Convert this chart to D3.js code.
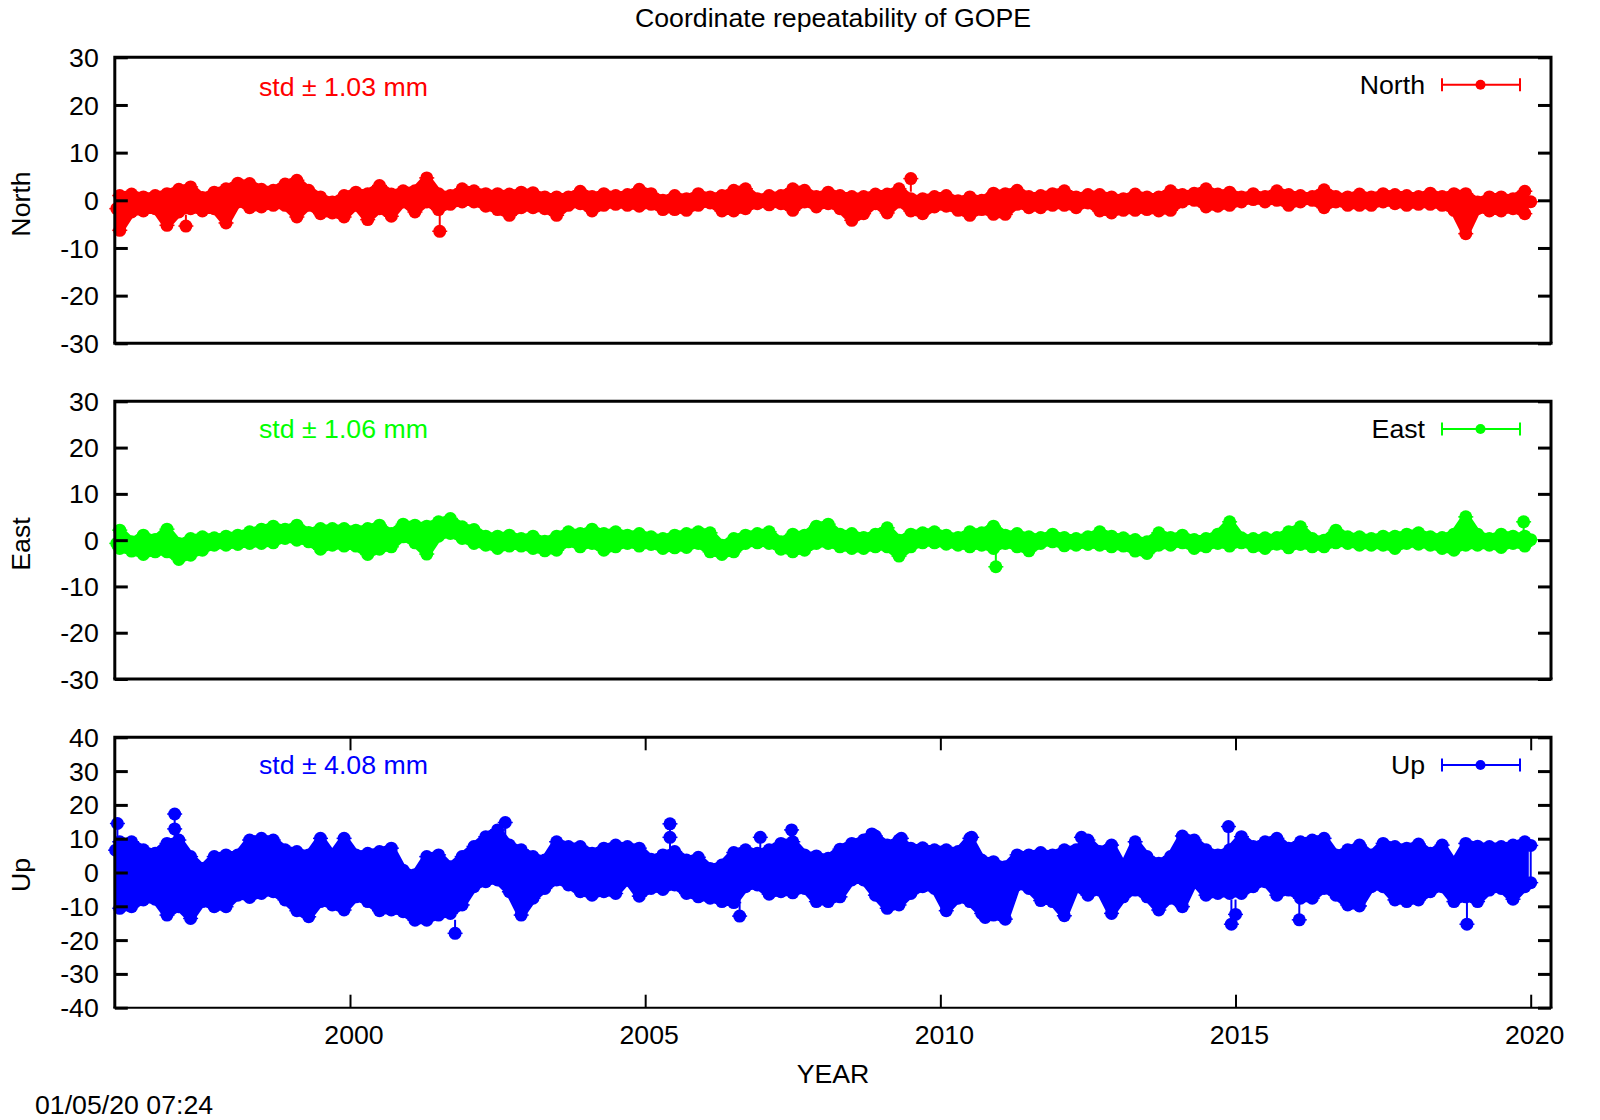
<!DOCTYPE html>
<html>
<head>
<meta charset="utf-8">
<script src="https://d3js.org/d3.v7.min.js"></script>
<style>
body { margin: 0; background: #fff; }
text { font-family: "Liberation Sans", sans-serif; font-size: 26.7px; fill: #000; }
</style>
</head>
<body>
<div id="chart"></div>
<script>
// epochs of the envelope samples, one every 0.2 yr
var epochs = d3.range(1996.1, 2020, 0.2);
var yearTicks = [2000, 2005, 2010, 2015, 2020];
var ticksNE = [-30, -20, -10, 0, 10, 20, 30];
var ticksUp = [-40, -30, -20, -10, 0, 10, 20, 30, 40];

// upper and lower limits of the point cloud (mm)
var northHigh = [1.0,1.3,0.7,1.0,1.4,2.3,2.8,0.6,1.7,2.4,3.6,3.5,2.3,2.1,3.4,4.2,2.1,0.7,-0.35,1.0,1.7,1.4,3.1,1.3,2.0,2.0,4.7,1.4,1.0,2.4,2.0,1.4,1.4,1.3,1.7,1.6,0.7,0.7,0.7,1.9,0.8,
  1.4,1.0,1.2,2.3,1.4,0,1.0,0.35,1.4,0.7,1.0,2.1,2.4,0.35,1.0,1.0,2.4,2.1,0.8,1.7,1.0,0.8,0.8,1.3,1.3,2.4,0.35,0.35,0.8,1.0,-0.1,0.7,0,1.5,1.4,2.1,0.8,1.0,1.4,2.0,0.7,1.2,
  1.2,0.7,0.35,1.3,0.7,0.7,2.0,1.2,1.5,2.4,1.3,1.7,0.7,1.4,0.8,2.0,1.2,1.0,0.8,2.2,0.8,0.7,1.3,0.7,1.4,1.2,1.0,0.8,1.5,0.8,1.4,1.4,-0.35,0.7,0.7,0.35,1.9];
var northLow = [-6.3,-2.45,-2.25,-1.75,-5.25,-2.45,-1.75,-2.25,-1.75,-4.75,-0.35,-1.55,-1.4,-1.05,-1.05,-3.5,-1.05,-2.8,-2.65,-3.5,-1.05,-4.05,-1.75,-3.35,-0.35,-2.45,-0.35,-1.95,-0.85,-0.35,-0.35,-1.25,-1.95,-3.15,-1.55,-1.55,-1.75,-3.15,-1.05,-0.7,-2.25,
  -1.05,-0.85,-1.05,-1.25,-0.85,-1.95,-1.95,-2.1,-1.05,-0.55,-2.25,-2.25,-1.75,-0.7,-0.95,-0.7,-2.1,-0.35,-1.4,-0.7,-1.75,-4.2,-2.8,-0.7,-2.65,-0.35,-2.25,-2.8,-1.4,-1.25,-2.1,-3.15,-1.95,-2.95,-2.95,-0.85,-1.55,-1.55,-1.05,-1.05,-1.55,-0.55,
  -2.25,-2.65,-2.1,-2.1,-1.95,-2.25,-2.1,-0.35,0,-1.4,-1.25,-1.05,-0.35,0.15,-0.35,0,-1.05,-0.35,0,-1.55,-0.35,-1.05,-1.05,-1.05,-0.35,-0.7,-1.05,-0.85,-0.85,-1.05,-2.1,-7,-1.75,-2.25,-2.25,-1.75,-2.8];
var eastHigh = [2.16,-0.36,1.08,0.14,2.37,-0.72,0.36,0.72,0.5,0.86,1.08,1.8,2.37,3.02,2.37,3.24,1.65,2.52,2.52,2.52,2.16,2.52,3.24,1.44,3.45,3.24,3.02,3.96,4.67,2.88,2.3,0.86,0.86,1.08,0.36,0.86,-0.22,0.86,1.8,1.44,2.37,
  1.44,1.8,1.08,1.44,0.72,0.36,1.08,1.44,1.8,1.58,-1.08,0.36,1.08,1.44,1.8,-0.36,1.29,1.08,3.02,3.45,1.29,1.44,0.57,1.29,2.66,0,1.29,1.58,1.8,1.08,0.57,1.8,1.58,3.02,1.08,1.44,0.72,0.57,1.29,0.57,0.36,0.72,
  1.8,0.86,0.5,0.14,-0.36,1.58,0.57,1.08,0.14,0.36,1.29,3.96,0.5,0.36,0.5,0.57,1.8,2.88,0.36,0,2.16,0.72,0.72,0.36,0.86,0.86,1.29,1.58,0.72,0.57,1.29,5.03,1.29,0.36,1.29,0.86,0.86];
var eastLow = [-1.8,-2.37,-3.09,-2.52,-2.52,-4.17,-3.24,-2.16,-1.08,-1.08,-0.93,-0.72,-0.72,-0.57,0.36,0,-0.36,-1.94,-1.08,-1.29,-1.29,-3.09,-1.94,-1.44,0.72,-0.57,-3,0.86,1.44,0.36,-0.72,-1.08,-1.8,-1.29,-1.29,-1.8,-2.3,-2.16,-0.36,-1.44,-0.72,
  -2.16,-1.44,-0.72,-1.29,-0.93,-1.8,-1.65,-1.58,-0.72,-2.52,-3.09,-2.52,-0.72,-0.57,-0.72,-1.94,-2.52,-2.16,-0.72,-0.72,-1.44,-1.8,-1.8,-1.44,-1.44,-3.45,-1.44,-0.57,-0.57,-0.86,-1.08,-1.44,-1.08,-1.8,-0.72,-1.44,-2.3,-0.72,-0.36,-1.22,-1.08,-0.93,
  -1.08,-1.44,-1.29,-2.37,-2.88,-1.08,-1.08,-0.57,-1.8,-1.44,-0.72,-1.29,-0.57,-1.44,-1.8,-0.86,-1.65,-0.93,-1.44,-1.44,-0.57,-0.72,-1.08,-1.08,-1.08,-1.8,-0.72,-0.86,-1.08,-1.8,-2.16,-1.08,-1.08,-1.08,-1.58,-0.72,-1.29];
var upHigh = [9.1,9.1,6.7,5.7,8.6,9.6,4.7,1.2,4.7,5.2,5.2,9.6,10.1,9.6,6.7,6.2,5.2,10.1,5.2,10.1,5.2,5.7,6.2,7.2,0.7,-0.7,4.7,5.2,1.7,4.7,7.7,10.6,12.6,8.1,6.7,4.7,3.7,9.1,7.7,7.7,5.7,
  7.2,8.1,7.7,7.2,3.9,5.2,6.2,3.7,4.5,1.2,2.2,5.9,6.7,5.7,6.7,8.6,9.1,5.2,4.9,4.2,6.9,8.6,9.6,10.8,8.1,9.6,7.2,7.3,6.7,6.7,6.2,10.1,3.7,3.2,1.7,5.2,5.2,5.9,5.2,6.7,6.7,9.6,
  6.2,8.1,1.7,9.1,4.7,2.7,4.7,10.8,9.6,6.7,5.2,6.7,10.6,7.7,9.1,10.1,7.2,9.1,9.6,10.1,5.2,6.7,8.1,5.2,8.6,7.7,7.2,8.4,5.7,8.1,2.7,8.6,7.8,7.7,7.7,8.1,9.1];
var upLow = [-10.6,-10.1,-8.1,-7.9,-12.6,-10.1,-13.6,-8.6,-10.1,-10.1,-6.7,-7.4,-6.2,-5.7,-8.1,-11.3,-13.1,-8.6,-9.6,-11.1,-7.2,-8.6,-11.3,-11.1,-11.6,-14.1,-14.1,-12.6,-12.1,-9.6,-4.2,-2.7,-2.2,-5.7,-12.6,-7.6,-4.7,-2.2,-3.7,-5.7,-6.7,
  -5.7,-6.2,-2.2,-7,-4.7,-5,-3.7,-6.2,-7.2,-7.6,-8.6,-8.9,-4.2,-3.7,-6.4,-5.7,-6,-4.7,-8.6,-8.6,-7.2,-2.2,-2.2,-6.7,-10.6,-9.6,-6.2,-4.2,-4.7,-11.3,-7.6,-8.6,-12.1,-12.6,-13.8,-3.7,-4.7,-8.3,-8.6,-12.8,-4.2,-6.7,
  -5.2,-12.1,-7.2,-5.2,-7.2,-11.1,-7.6,-10.1,-2.7,-6.7,-6.2,-6.2,-6.2,-4.2,-2.7,-6.7,-5.2,-7.6,-7.6,-4.7,-6.7,-9.6,-9.9,-4.2,-4.2,-8.1,-8.6,-8.1,-5.7,-4.2,-8.6,-7.2,-8.6,-5.2,-4.7,-7.9,-4.2];

// single points standing out of the cloud: epoch, value, far end of the error bar
var northOutYear = [1996.05, 1997.22, 2001.52, 2009.5, 2020.0];
var northOutValue = [-1.75, -5.4, -6.5, 4.55, -0.3];
var northOutBar = [-1.75, -3, -3, 1.8, -0.3];
var eastOutYear = [1996.05, 2010.94, 2019.88, 2020.0];
var eastOutValue = [-0.7, -5.75, 3.96, 0.1];
var eastOutBar = [-0.7, -2.5, 1, 0.1];
var upOutYear = [1996.03, 1996.06, 1997.03, 1997.03, 2001.78, 2002.63, 2005.42, 2005.42, 2006.6, 2006.95, 2007.48, 2008.84, 2009.34, 2010.53, 2010.76, 2012.39, 2014.88, 2014.93, 2015.0, 2016.08, 2018.92, 2020.0, 2020.0];
var upOutValue = [6.6, 14.5, 17.3, 12.9, -18, 14.8, 14.4, 10.4, -12.9, 10.4, 12.6, 11.4, 10.1, 10.4, -13.3, 10.4, 13.6, -15.3, -12.4, -14, -15.3, 8, -3];
var upOutBar = [6.6, 8, 12, 9, -14, 10, 8, 6, -8, 7, 9, 9, 7, 7, -9, 7, 8, -8, -8, -8, -9, -3, -3];

var svg = d3.select("#chart").append("svg")
  .attr("width", 1600)
  .attr("height", 1120);

var x = d3.scaleLinear().domain([2000, 2020]).range([350, 1530.7]);
var plotLeft = 114.8;
var plotRight = 1551;
var markerR = 6.5;
var fontSize = "26.7px";

function styleAxisText(a) {
  a.selectAll("text")
    .style("font-size", fontSize)
    .style("font-family", '"Liberation Sans", sans-serif')
    .style("fill", "#000");
}

function marker(g, yr, value, color) {
  g.append("line")
    .attr("x1", x(yr) - 7.5).attr("x2", x(yr) + 7.5)
    .attr("y1", value).attr("y2", value)
    .attr("stroke", color).attr("stroke-width", 1.5);
  g.append("circle").attr("cx", x(yr)).attr("cy", value).attr("r", markerR).attr("fill", color);
}

function panel(opt) {
  var y = d3.scaleLinear().domain(opt.domain).range([opt.bottom, opt.top]);
  var g = svg.append("g");

  // the dense cloud: a band between both limits, markers on its edges
  var cloud = d3.area()
    .x(function (i) { return x(epochs[i]); })
    .y0(function (i) { return y(opt.low[i]); })
    .y1(function (i) { return y(opt.high[i]); });
  g.append("path")
    .attr("d", cloud(d3.range(epochs.length)))
    .attr("fill", opt.color)
    .attr("stroke", opt.color)
    .attr("stroke-width", markerR * 2 - 5)
    .attr("stroke-linejoin", "round");
  epochs.forEach(function (yr, i) {
    marker(g, yr, y(opt.high[i]), opt.color);
    marker(g, yr, y(opt.low[i]), opt.color);
  });

  // outliers with their error bars
  opt.outYear.forEach(function (yr, i) {
    g.append("line")
      .attr("x1", x(yr)).attr("x2", x(yr))
      .attr("y1", y(opt.outValue[i])).attr("y2", y(opt.outBar[i]))
      .attr("stroke", opt.color).attr("stroke-width", 2);
    marker(g, yr, y(opt.outValue[i]), opt.color);
  });

  // frame
  g.append("path")
    .attr("d", "M" + plotLeft + "," + opt.bottom + "V" + opt.top + "H" + plotRight + "V" + opt.bottom)
    .attr("fill", "none").attr("stroke", "#000").attr("stroke-width", 3);
  g.append("line")
    .attr("x1", plotLeft - 1.5).attr("x2", plotRight + 1.5)
    .attr("y1", opt.bottom).attr("y2", opt.bottom)
    .attr("stroke", "#000").attr("stroke-width", opt.showYears ? 2 : 3);

  // y axes, ticks pointing inward
  var left = g.append("g").attr("transform", "translate(" + plotLeft + ",0)")
    .call(d3.axisLeft(y).tickValues(opt.ticks).tickSize(-13).tickPadding(16).tickFormat(String));
  var right = g.append("g").attr("transform", "translate(" + plotRight + ",0)")
    .call(d3.axisRight(y).tickValues(opt.ticks).tickSize(-13).tickFormat(""));
  [left, right].forEach(function (a) {
    a.select(".domain").remove();
    a.selectAll("line").attr("stroke", "#000").attr("stroke-width", 3);
    styleAxisText(a);
  });
  left.selectAll("text").attr("dy", "0.34em");

  if (opt.showYears) {
    var bottom = g.append("g").attr("transform", "translate(0," + opt.bottom + ")")
      .call(d3.axisBottom(x).tickValues(yearTicks).tickSize(-13).tickPadding(17).tickFormat(String));
    var top = g.append("g").attr("transform", "translate(0," + opt.top + ")")
      .call(d3.axisTop(x).tickValues(yearTicks).tickSize(-13).tickFormat(""));
    [bottom, top].forEach(function (a) {
      a.select(".domain").remove();
      a.selectAll("line").attr("stroke", "#000").attr("stroke-width", 2);
      styleAxisText(a);
    });
    bottom.selectAll("text").attr("dx", 3.5);
  }

  // y label
  g.append("text")
    .attr("transform", "translate(29.5," + opt.labelY + ") rotate(-90)")
    .attr("text-anchor", "middle")
    .text(opt.name);

  // std note
  g.append("text")
    .attr("x", 259).attr("y", opt.stdY)
    .style("fill", opt.color)
    .text(opt.std);

  // legend
  g.append("text")
    .attr("x", 1425).attr("y", opt.legendY + 9)
    .attr("text-anchor", "end")
    .text(opt.name);
  g.append("path")
    .attr("d", "M1442," + (opt.legendY - 6.5) + "v13M1442," + opt.legendY + "H1520M1520," + (opt.legendY - 6.5) + "v13")
    .attr("fill", "none").attr("stroke", opt.color).attr("stroke-width", 2);
  g.append("circle").attr("cx", 1480.5).attr("cy", opt.legendY).attr("r", 5).attr("fill", opt.color);
}

panel({
  name: "North", std: "std \u00b1 1.03 mm", color: "#ff0000",
  domain: [-30, 30], ticks: ticksNE, top: 57.3, bottom: 343.3, labelY: 204, legendY: 84.7, stdY: 96,
  high: northHigh, low: northLow, outYear: northOutYear, outValue: northOutValue, outBar: northOutBar
});
panel({
  name: "East", std: "std \u00b1 1.06 mm", color: "#00ff00",
  domain: [-30, 30], ticks: ticksNE, top: 401.3, bottom: 679, labelY: 544, legendY: 429, stdY: 438,
  high: eastHigh, low: eastLow, outYear: eastOutYear, outValue: eastOutValue, outBar: eastOutBar
});
panel({
  name: "Up", std: "std \u00b1 4.08 mm", color: "#0000ff",
  domain: [-40, 40], ticks: ticksUp, top: 737.3, bottom: 1007.7, labelY: 875, legendY: 765, stdY: 774,
  high: upHigh, low: upLow, outYear: upOutYear, outValue: upOutValue, outBar: upOutBar, showYears: true
});

svg.append("text").attr("x", 833).attr("y", 26.5).attr("text-anchor", "middle").text("Coordinate repeatability of GOPE");
svg.append("text").attr("x", 833).attr("y", 1083).attr("text-anchor", "middle").text("YEAR");
svg.append("text").attr("x", 35).attr("y", 1114).text("01/05/20 07:24");
</script>
</body>
</html>
